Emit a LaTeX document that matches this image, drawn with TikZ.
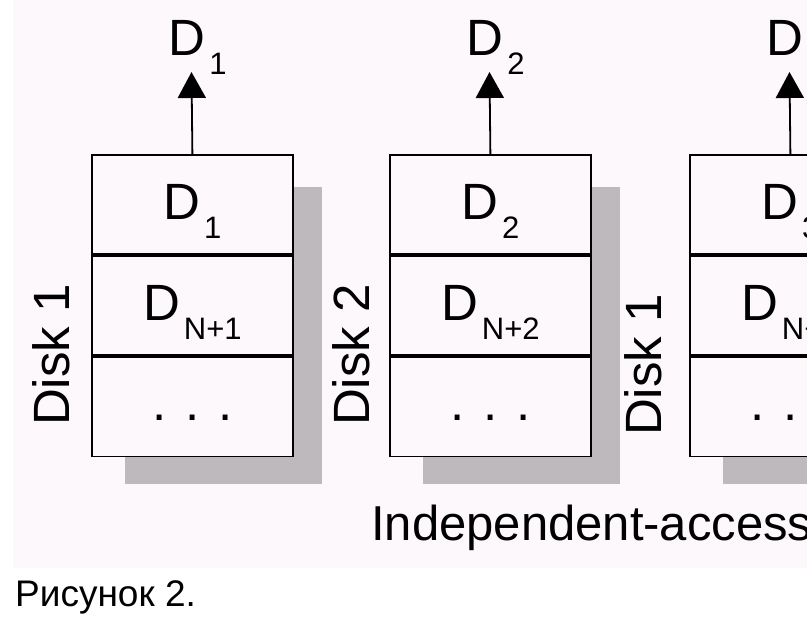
\documentclass[tikz,border=0pt]{standalone}
\usepackage{fontspec}
\setmainfont{Liberation Sans}
\usetikzlibrary{arrows.meta}

\definecolor{panel}{RGB}{252,248,252}
\definecolor{shadowgrey}{RGB}{189,185,189}
\newcommand{\dlab}[1]{D\hspace{4pt}\raisebox{-19pt}{\fontsize{31}{31}\selectfont #1}}

\tikzset{
  cell/.style={draw, line width=1.8pt, fill=panel, minimum width=201pt,
    minimum height=99.3pt, inner sep=0pt, anchor=north west},
  txt/.style={inner sep=0pt, font=\fontsize{51}{51}\selectfont},
  outarrow/.style={line width=1.8pt, -{Triangle[length=26pt, width=28pt]}}
}

\begin{document}
\begin{tikzpicture}[x=1pt, y=-1pt]
  \useasboundingbox (0,0) rectangle (807,625);
  % Page and grey panel.
  \fill[white] (0,0) rectangle (807,625);
  \fill[panel] (13,0) rectangle (807,568);
  % Disks: left edge, centre, disk number, label position.
  \foreach \i/\bx/\cx/\d/\dx/\dy in {1/91/191.5/1/51/355, 2/389/489.5/2/351/355, 3/689/789.5/1/643/365} {
    \fill[shadowgrey] (\bx+34,187) rectangle (\bx+231,484);
    \node[cell] (c\i a) at (\bx,154) {};
    \node[cell] (c\i b) at (c\i a.south west) {};
    \node[cell] (c\i c) at (c\i b.south west) {};
    \node[txt, anchor=base] (d\i a) at ([yshift=-14.5pt]c\i a.center) {\dlab{\i}};
    \node[txt, anchor=base] (d\i b) at ([yshift=-14.5pt]c\i b.center) {\dlab{N+\i}};
    \node[txt, anchor=base] (d\i c) at ([yshift=-13.5pt]c\i c.center) {. . .};
    % Output block above the disk.
    \node[txt, anchor=base] (out\i) at (\cx+6,55) {\dlab{\i}};
    \coordinate (tip\i) at (\cx,72);
    \draw[outarrow] (c\i a.north) -- (tip\i);
    \node[txt, rotate=90] (disk\i) at (\dx,\dy) {Disk \d};
  }
  \node[txt, anchor=base west, font=\fontsize{49}{49}\selectfont] (title) at (371,540) {Independent-access};
  \node[inner sep=0pt, anchor=base west, font=\fontsize{37}{37}\selectfont] (caption) at (15,606) {Рисунок 2.};
\end{tikzpicture}
\end{document}
